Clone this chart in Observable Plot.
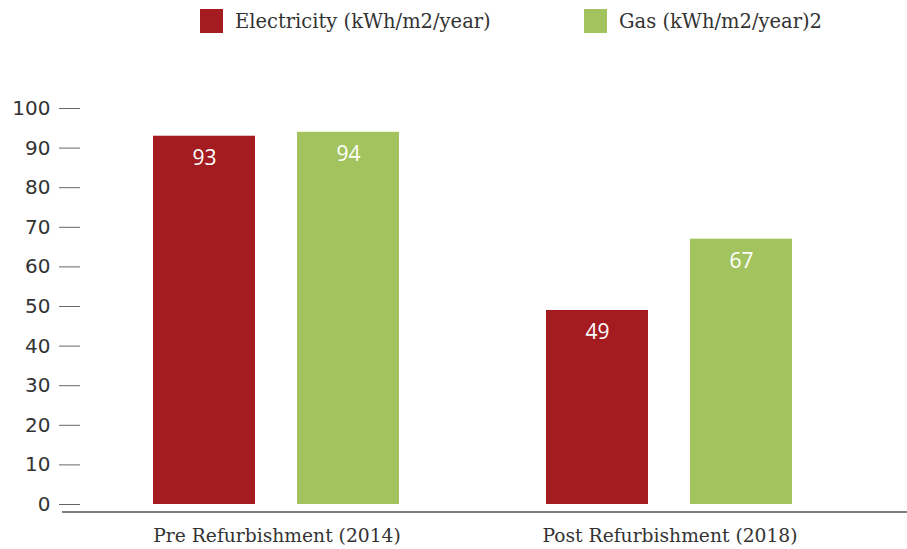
<!DOCTYPE html>
<html><head><meta charset="utf-8">
<script src="https://cdn.jsdelivr.net/npm/d3@7"></script>
<script src="https://cdn.jsdelivr.net/npm/@observablehq/plot@0.6"></script>
<style>
body{margin:0;background:#fff;}
#wrap{width:907px;}
#legend{position:relative;height:45px;font-family:"DejaVu Serif",serif;font-size:19.5px;color:#333;}
.item{position:absolute;top:9px;display:flex;align-items:center;}
.sw{width:23px;height:24px;margin-right:12px;}
</style></head>
<body><div id="wrap"><div id="legend"></div><div id="chart"></div></div>
<script>
const groups = ["Pre Refurbishment (2014)", "Post Refurbishment (2018)"];
const series = ["Electricity (kWh/m2/year)", "Gas (kWh/m2/year)2"];
const electricity = [93, 49];
const gas = [94, 67];
const colors = ["#a41c20", "#a3c35e"];
const yTicks = [0,10,20,30,40,50,60,70,80,90,100];

const data = [];
groups.forEach((g,i)=>{
  data.push({group:g, series:series[0], value:electricity[i]});
  data.push({group:g, series:series[1], value:gas[i]});
});

const legendX = [200, 584];
const legend = document.getElementById("legend");
series.forEach((s,i)=>{
  const d = document.createElement("div");
  d.className="item"; d.style.left = legendX[i]+"px";
  d.innerHTML = `<span class="sw" style="background:${colors[i]}"></span><span>${s}</span>`;
  legend.appendChild(d);
});

const plot = Plot.plot({
  width: 907, height: 504,
  marginLeft: 79, marginRight: 41, marginTop: 63, marginBottom: 45,
  style: {fontFamily: "'Open Sans', sans-serif", background: "#fff"},
  fx: {domain: groups, padding: 0, label: null},
  x: {domain: series, paddingInner: 0.29, paddingOuter: 0.502, axis: null},
  y: {domain: [0, 100], label: null},
  color: {domain: series, range: colors},
  marks: [
    Plot.axisY({ticks: yTicks, tickSize: 21, tickPadding: 9, fontSize: 20, fontFamily: "'DejaVu Sans', sans-serif", stroke: "#666", fill: "#333", label: null}),
    Plot.axisFx({anchor: "bottom", tickSize: 0, tickPadding: 24, fontSize: 18.7, fontFamily: "'DejaVu Serif',serif", fill: "#333", label: null}),
    Plot.barY(data, {fx: "group", x: "series", y: "value", fill: "series"}),
    Plot.text(data, {fx: "group", x: "series", y: "value", text: d => String(d.value), dy: 22, fill: "white", fontSize: 21})
  ]
});
document.getElementById("chart").appendChild(plot);
const y0 = plot.scale("y").apply(0) + 8;
d3.select(plot).append("line").attr("x1", 62).attr("x2", 907).attr("y1", y0).attr("y2", y0)
  .attr("stroke", "#555").attr("stroke-width", 1.5);
</script></body></html>
